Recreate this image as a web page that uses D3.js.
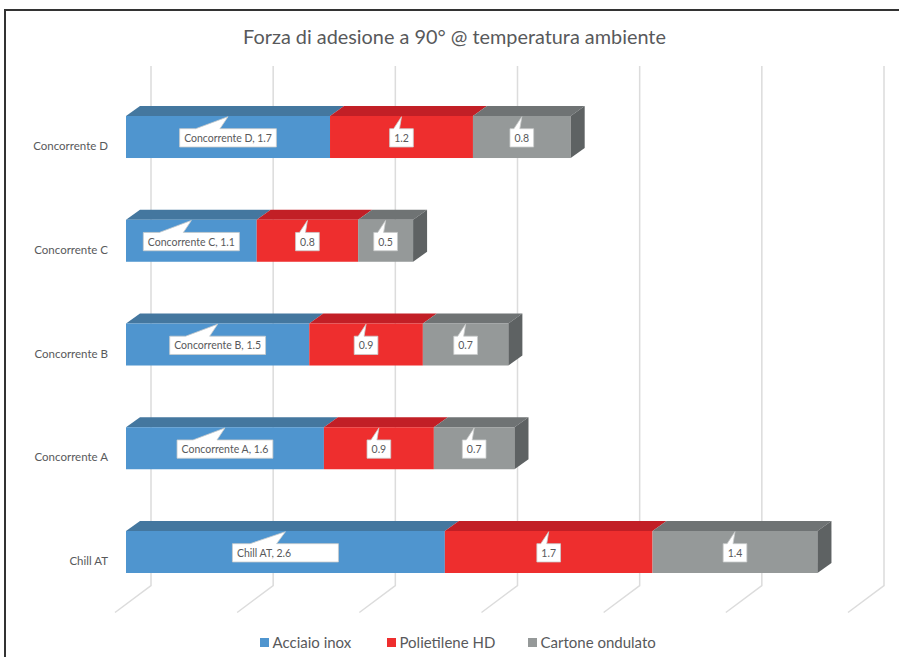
<!DOCTYPE html>
<html>
<head>
<meta charset="utf-8">
<title>Forza di adesione</title>
<script src="https://d3js.org/d3.v7.min.js"></script>
<style>
  html, body { margin: 0; background: #fff; }
  svg { display: block; }
  text { font-family: "Lato", sans-serif; fill: #58595b; }
</style>
</head>
<body>
<svg width="899" height="657"></svg>
<script>
const categories = ["Concorrente D", "Concorrente C", "Concorrente B", "Concorrente A", "Chill AT"]
const seriesNames = ["Acciaio inox", "Polietilene HD", "Cartone ondulato"]
const acciaio = [1.67, 1.07, 1.50, 1.62, 2.61]
const polietilene = [1.17, 0.83, 0.93, 0.90, 1.70]
const cartone = [0.80, 0.45, 0.70, 0.66, 1.35]
const gridTicks = [0, 1, 2, 3, 4, 5, 6]

const front = ["#4f95cf", "#ee2e2e", "#959999"]
const top_ = ["#44779f", "#c21f26", "#6f7374"]
const sideColor = "#5e6263"
const depthX = 14, depthY = 10

const svg = d3.select("svg")
const x = d3.scaleLinear().domain([0, 6]).range([126, 859])
const y = d3.scaleBand().domain(categories).range([116, 573]).paddingInner(0.595).paddingOuter(0)
const fmt = d3.format(".1f")

// frame
svg.append("path").attr("d", "M5,657V10H899").attr("fill", "none").attr("stroke", "#333").attr("stroke-width", 2)

svg.append("text").attr("x", 454.5).attr("y", 43.5).attr("text-anchor", "middle")
  .style("font-size", "19.85px").text("Forza di adesione a 90° @ temperatura ambiente")

// back wall + floor lines
const grid = svg.append("g").attr("fill", "none").attr("stroke", "#dcdcdc").attr("stroke-width", 1.5)
grid.selectAll("path").data(gridTicks).enter().append("path")
  .attr("d", d => `M${x(d) + 25},66V585.5l-36,27`)

// stacks
const values = [acciaio, polietilene, cartone]
const rows = categories.map((c, i) => {
  let sum = 0
  return values.map((v, s) => {
    const r = { cat: c, s: s, v: v[i], x0: x(sum), x1: x(sum + v[i]) }
    sum += v[i]
    return r
  })
})

const row = svg.selectAll("g.row").data(rows).enter().append("g").attr("class", "row")
  .attr("transform", (d, i) => `translate(0,${y(categories[i])})`)

row.selectAll("path.top").data(d => d).enter().append("path").attr("class", "top")
  .attr("fill", d => top_[d.s])
  .attr("d", d => `M${d.x0},0l${depthX},${-depthY}H${d.x1 + depthX}l${-depthX},${depthY}Z`)
row.selectAll("rect").data(d => d).enter().append("rect")
  .attr("x", d => d.x0).attr("y", 0)
  .attr("width", d => d.x1 - d.x0).attr("height", y.bandwidth())
  .attr("fill", d => front[d.s])
row.append("path").attr("fill", sideColor)
  .attr("d", d => {
    const e = d[2].x1
    return `M${e},0l${depthX},${-depthY}v${y.bandwidth()}l${-depthX},${depthY}Z`
  })

// callout labels
const label = row.selectAll("g.label").data(d => d).enter().append("g").attr("class", "label")
label.each(function (d) {
  const g = d3.select(this)
  const isFirst = d.s == 0
  const txt = isFirst ? d.cat + ", " + fmt(d.v) : fmt(d.v)
  const cx = (d.x0 + d.x1) / 2
  const box = g.append("path")
  const t = g.append("text").attr("y", 26).style("font-size", "10.5px").text(txt)
  const tw = t.node().getComputedTextLength()
  // the Chill AT box was left wider than its text
  const w = d.cat == "Chill AT" && isFirst ? 106 : tw + 9
  const l = cx - w / 2
  t.attr("x", d.cat == "Chill AT" && isFirst ? l + 4.5 : cx - tw / 2)
  box.attr("fill", "#fff").attr("stroke", "#c9cbcc").attr("stroke-width", 0.8)
    .attr("d", `M${l},12.7H${l + w / 6}L${cx},0.7L${l + w * 5 / 12},12.7H${l + w}V31H${l}Z`)
})

// category labels
const axis = svg.append("g").attr("transform", "translate(108,0)")
  .call(d3.axisLeft(y).tickSize(0).tickPadding(0))
axis.select(".domain").remove()
axis.selectAll("text").attr("dy", null).attr("y", 13)
  .style("font-size", "11.5px")
axis.attr("font-family", null)

// legend
const legendX = [260, 387, 528]
const legend = svg.selectAll("g.legend").data(seriesNames).enter().append("g").attr("class", "legend")
  .attr("transform", (d, i) => `translate(${legendX[i]},638)`)
legend.append("rect").attr("width", 9).attr("height", 9).attr("fill", (d, i) => front[i])
legend.append("text").attr("x", 12.5).attr("y", 9.5).style("font-size", "15px").text(d => d)
</script>
</body>
</html>
